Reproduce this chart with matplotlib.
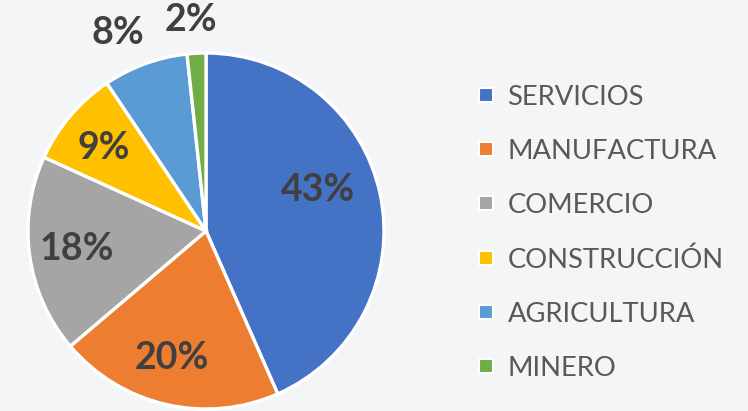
import matplotlib
matplotlib.use("Agg")
import matplotlib.pyplot as plt
from matplotlib.lines import Line2D
import numpy as np

categories = ["SERVICIOS", "MANUFACTURA", "COMERCIO", "CONSTRUCCIÓN", "AGRICULTURA", "MINERO"]
values = [43.4, 20.4, 18.0, 8.8, 7.7, 1.7]
colors = ["#4472C4", "#ED7D31", "#A5A5A5", "#FFC000", "#5B9BD5", "#70AD47"]

W, H = 748, 411
bg = "#F4F5F7"
fig = plt.figure(figsize=(W / 100, H / 100), dpi=100, facecolor=bg)

cx, cy, R = 206, 231, 178
ax = fig.add_axes([(cx - R) / W, (H - cy - R) / H, 2 * R / W, 2 * R / H])
ax.set_facecolor(bg)

wedges, _ = ax.pie(values, colors=colors, startangle=90, counterclock=False,
                   radius=1.0, wedgeprops=dict(edgecolor="white", linewidth=2.4))
ax.set_xlim(-1, 1)
ax.set_ylim(-1, 1)
ax.set_axis_off()

# label placement (radius fraction, angle offset in degrees) per slice
label_r = [0.67, 0.74, 0.73, 0.74, 1.22, 1.19]
label_da = [8, -2, 0, 1, 4, 1]
for w, v, r, da in zip(wedges, values, label_r, label_da):
    ang = np.deg2rad((w.theta1 + w.theta2) / 2 + da)
    ax.text(r * np.cos(ang), r * np.sin(ang), f"{round(v):d}%",
            ha="center", va="center", fontsize=27, fontweight="bold",
            family="Lato", color="#404040", clip_on=False)

handles = [Line2D([], [], marker="s", linestyle="none", markersize=10,
                  markerfacecolor=c, markeredgecolor="white", markeredgewidth=1.5)
           for c in colors]
leg = fig.legend(handles, categories, loc="upper left",
                 bbox_to_anchor=(476 / W, 1 - 85 / H), frameon=False,
                 prop=dict(family="Lato", size=19.7), labelcolor="#595959",
                 handlelength=0.7, handletextpad=0.45, labelspacing=1.06,
                 borderaxespad=0, borderpad=0)

fig.savefig("out.png", dpi=100, facecolor=bg)
